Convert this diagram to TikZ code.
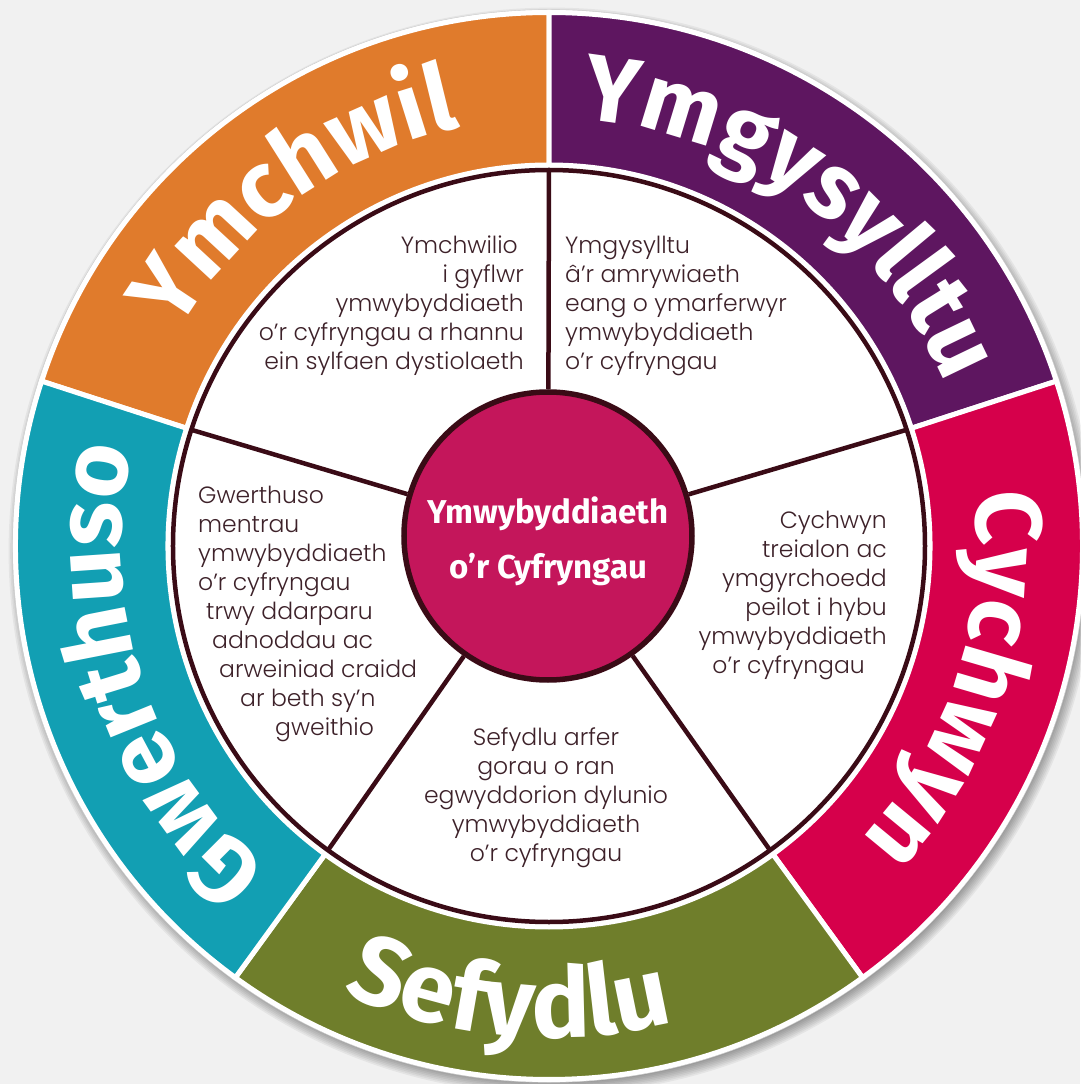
\documentclass[tikz,border=0pt]{standalone}
\usepackage{fontspec}
\setmainfont{Poppins}[UprightFont={* Light}]
\newfontfamily\labfont{Fira Sans}
\usetikzlibrary{decorations.text}
\definecolor{bg}{HTML}{F1F1F1}
\definecolor{corange}{HTML}{E07B2C}
\definecolor{cpurple}{HTML}{5E1660}
\definecolor{cred}{HTML}{D6004B}
\definecolor{colive}{HTML}{6F7E2B}
\definecolor{cteal}{HTML}{129FB3}
\definecolor{chub}{HTML}{C4165B}
\definecolor{cline}{HTML}{3A0B16}
\definecolor{ctext}{HTML}{3D2129}
\newcommand\labstyle{\labfont\bfseries\fontsize{94}{94}\selectfont\color{white}}
\newcommand\labstyleb{\labfont\bfseries\fontsize{98}{98}\selectfont\color{white}}
\begin{document}
\begin{tikzpicture}[x=1pt,y=1pt,
  segstyle/.style={draw=white, line width=5, line join=miter},
  spoke/.style={draw=cline, line width=4.5},
  bodytext/.style={font=\fontsize{23.5}{29}\selectfont, text=ctext, inner sep=0pt},
  arclabel/.style={decorate, decoration={text along path, text align=center, text={|\labstyle|#1}}},
  arclabelb/.style={decorate, decoration={text along path, text align=center, text={|\labstyleb|#1}}}]
\useasboundingbox (-549,-538) rectangle (531,546);
\fill[bg] (-549,-538) rectangle (531,546);
% shadow
\foreach \k in {0,...,9} \fill[black,opacity=0.05] (3,-5) circle ({529+\k*1.6});
% white rim
\fill[white] (0,0) circle (536);
\draw[gray!35, line width=0.6] (0,0) circle (536.3);
% segments
\fill[corange, segstyle] (162:381) arc[start angle=162, end angle=90, radius=381] -- (90:533.5) arc[start angle=90, end angle=162, radius=533.5] -- cycle;
\fill[cpurple, segstyle] (90:381) arc[start angle=90, end angle=18, radius=381] -- (18:533.5) arc[start angle=18, end angle=90, radius=533.5] -- cycle;
\fill[cred, segstyle] (18:381) arc[start angle=18, end angle=-54, radius=381] -- (-54:533.5) arc[start angle=-54, end angle=18, radius=533.5] -- cycle;
\fill[colive, segstyle] (-54:381) arc[start angle=-54, end angle=-126, radius=381] -- (-126:533.5) arc[start angle=-126, end angle=-54, radius=533.5] -- cycle;
\fill[cteal, segstyle] (-126:381) arc[start angle=-126, end angle=-198, radius=381] -- (-198:533.5) arc[start angle=-198, end angle=-126, radius=533.5] -- cycle;
% labels on ring
\path[arclabel=Ymchwil] (162:428) arc[start angle=162, end angle=90, radius=428];
\path[arclabel=Ymgysylltu] (90:428) arc[start angle=90, end angle=18, radius=428];
\path[arclabel=Cychwyn] (18:428) arc[start angle=18, end angle=-54, radius=428];
\path[arclabel=Gwerthuso] (234:428) arc[start angle=234, end angle=162, radius=428];
\path[arclabelb=Sefydlu] (-131:492) arc[start angle=-131, end angle=-59, radius=492];
% inner disk
\node[circle, draw=cline, fill=white, line width=4.5, minimum size=752, inner sep=0pt] (disk) at (0,0) {};
\coordinate (r1) at (90:376);
\coordinate (r2) at (18:376);
\coordinate (r3) at (-54:376);
\coordinate (r4) at (-126:376);
\coordinate (r5) at (162:376);
\node[circle, fill=chub, draw=cline, line width=5.5, minimum size=288, inner sep=0pt] (hub) at (-1,10) {};
\node[align=center, text=white, inner sep=0pt, font=\labfont\bfseries\fontsize{33}{55}\selectfont] (hubtext) at ([yshift=-5pt]hub.center) {Ymwybyddiaeth\\o’r Cyfryngau};
\foreach \r in {r1,r2,r3,r4,r5} \draw[spoke] (hub) -- (\r);
% texts
\node[bodytext, align=right, anchor=east] (tl) at (-25,240) {Ymchwilio\hspace*{6pt}\\i gyflwr\\ymwybyddiaeth\\o’r cyfryngau a rhannu\\ein sylfaen dystiolaeth};
\node[bodytext, align=left, anchor=west] (tr) at (16,240) {Ymgysylltu\\â’r amrywiaeth\\eang o ymarferwyr\\ymwybyddiaeth\\o’r cyfryngau};
\node[bodytext, align=right, anchor=east] (rt) at (338,-49.5) {Cychwyn\\treialon ac\\ymgyrchoedd\\peilot i hybu\\ymwybyddiaeth\hspace*{3pt}\\o’r cyfryngau\hspace*{22pt}};
\node[bodytext, align=center] (bt) at (-3,-251.5) {Sefydlu arfer\\gorau o ran\\egwyddorion dylunio\\ymwybyddiaeth\\o’r cyfryngau};
\node[bodytext, align=left, anchor=west] (lt) at (-351,-67.5) {Gwerthuso\\mentrau\\ymwybyddiaeth\\o’r cyfryngau\\\hspace*{8pt}trwy ddarparu\\\hspace*{14pt}adnoddau ac\\\hspace*{21pt}arweiniad craidd\\\hspace*{42pt}ar beth sy’n\\\hspace*{77pt}gweithio};
\end{tikzpicture}
\end{document}
